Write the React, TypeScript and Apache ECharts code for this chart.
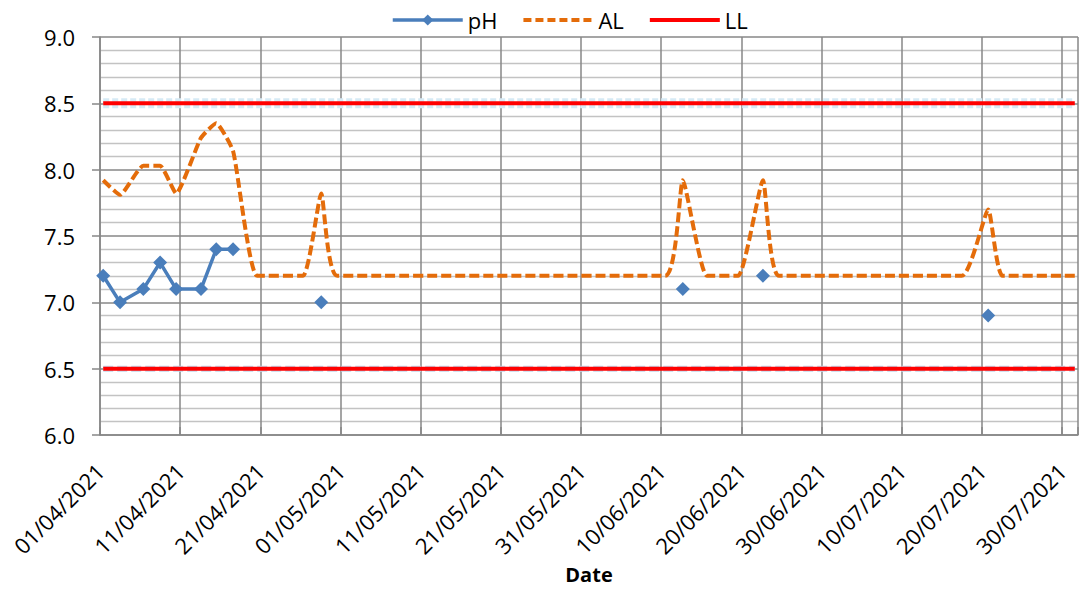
import React, { useEffect, useRef } from "react";
import * as echarts from "echarts";

// Day offsets are counted from 01/04/2021
const BASE_DATE_UTC = Date.UTC(2021, 3, 1);
const X_MIN_DAY = 0;
const X_MAX_DAY = 122;
const X_TICK_DAYS = 10;

const Y_MIN = 6;
const Y_MAX = 9;
const Y_INTERVAL = 0.5;

// pH samples (group id: points of the same group are joined by a line)
const phDays = [0.4, 2.5, 5.4, 7.5, 9.5, 12.6, 14.5, 16.6, 27.6, 72.7, 82.7, 110.8];
const phValues = [7.2, 7.0, 7.1, 7.3, 7.1, 7.1, 7.4, 7.4, 7.0, 7.1, 7.2, 6.9];
const phGroups = [0, 0, 0, 0, 0, 0, 0, 0, 1, 2, 3, 4];

// AL series
const alDays = [0.4, 2.5, 5.4, 7.5, 9.5, 12.6, 14.5, 16.6, 19.6, 25.3, 27.6, 29.6, 70.5, 72.7, 75.7, 79.6, 82.7, 84.7, 107.5, 110.8, 112.6, 121.6];
const alValues = [7.92, 7.81, 8.03, 8.03, 7.82, 8.24, 8.35, 8.14, 7.2, 7.2, 7.82, 7.2, 7.2, 7.92, 7.2, 7.2, 7.92, 7.2, 7.2, 7.7, 7.2, 7.2];

// LL limit lines
const llDays = [0.4, 121.6];
const llUpper = [8.5, 8.5];
const llLower = [6.5, 6.5];

const FONT = "'Open Sans', 'Noto Sans', sans-serif";
const GRID_MAJOR = "#878787";
const GRID_MINOR = "#c3c3c3";
const PH_COLOR = "#4a7ebb";
const AL_COLOR = "#e46c0a";
const LL_COLOR = "#ff0000";

function dayToLabel(day: number): string {
  const d = new Date(BASE_DATE_UTC + day * 86400000);
  const dd = String(d.getUTCDate()).padStart(2, "0");
  const mm = String(d.getUTCMonth() + 1).padStart(2, "0");
  return `${dd}/${mm}/${d.getUTCFullYear()}`;
}

function buildPhData(): (number | null)[][] {
  const out: (number | null)[][] = [];
  for (let i = 0; i < phDays.length; i++) {
    if (i > 0 && phGroups[i] !== phGroups[i - 1]) {
      out.push([phDays[i - 1], null]);
    }
    out.push([phDays[i], phValues[i]]);
  }
  return out;
}

const zip = (xs: number[], ys: number[]) => xs.map((x, i) => [x, ys[i]]);

export default function App() {
  const ref = useRef<HTMLDivElement>(null);

  useEffect(() => {
    if (!ref.current) return;
    const chart = echarts.init(ref.current, undefined, { renderer: "svg" });
    const option: any = {
      animation: false,
      backgroundColor: "#ffffff",
      textStyle: { fontFamily: FONT },
      legend: {
        data: [
          { name: "pH", lineStyle: { width: 3.5, color: PH_COLOR } },
          { name: "AL", itemStyle: { opacity: 0 }, lineStyle: { width: 4, color: AL_COLOR, type: [8, 4] } },
          { name: "LL", itemStyle: { opacity: 0 }, lineStyle: { width: 4, color: LL_COLOR } },
        ],
        lineStyle: { width: "inherit" },
        left: 386,
        top: 4,
        itemWidth: 70,
        itemHeight: 14,
        itemGap: 24,
        textStyle: { fontSize: 22, color: "#000", fontFamily: FONT },
      },
      grid: {
        left: 100,
        right: 2,
        top: 37,
        bottom: 154,
        outerBoundsMode: "none",
        containLabel: false,
      },
      xAxis: {
        type: "value",
        min: X_MIN_DAY,
        max: X_MAX_DAY,
        interval: X_TICK_DAYS,
        name: "Date",
        nameLocation: "middle",
        nameGap: 126,
        nameTextStyle: { fontSize: 20, fontWeight: "bold", color: "#000", fontFamily: FONT },
        axisLine: { show: true, lineStyle: { color: GRID_MAJOR, width: 1.5 } },
        axisTick: { show: true, inside: true, length: 8, lineStyle: { color: GRID_MAJOR, width: 1.5 } },
        splitLine: { show: true, lineStyle: { color: GRID_MAJOR, width: 1.5 } },
        axisLabel: {
          rotate: 45,
          margin: 32,
          fontSize: 22,
          color: "#000",
          fontFamily: FONT,
          formatter: (v: number) => (v % X_TICK_DAYS === 0 ? dayToLabel(v) : ""),
        },
      },
      yAxis: {
        type: "value",
        min: Y_MIN,
        max: Y_MAX,
        interval: Y_INTERVAL,
        axisLine: { show: true, lineStyle: { color: GRID_MAJOR, width: 1.5 } },
        axisTick: { show: true, length: 8, lineStyle: { color: GRID_MAJOR, width: 1.5 } },
        minorTick: { show: false, splitNumber: 5 },
        splitLine: { show: true, lineStyle: { color: GRID_MAJOR, width: 1.5 } },
        minorSplitLine: { show: true, lineStyle: { color: GRID_MINOR, width: 1.3 } },
        axisLabel: {
          margin: 25,
          fontSize: 22,
          color: "#000",
          fontFamily: FONT,
          formatter: (v: number) => v.toFixed(1),
        },
      },
      series: [
        {
          name: "limit-shadow-upper",
          type: "line",
          data: zip(llDays, llUpper),
          symbol: "none",
          silent: true,
          lineStyle: { color: "#d6eaf5", width: 10, type: [6, 3] },
          z: 1,
        },
        {
          name: "limit-shadow-lower",
          type: "line",
          data: zip(llDays, llLower),
          symbol: "none",
          silent: true,
          lineStyle: { color: "#c4d8ea", width: 6, type: [10, 4] },
          z: 1,
        },
        {
          name: "LL",
          type: "line",
          data: zip(llDays, llUpper),
          symbol: "none",
          color: LL_COLOR,
          lineStyle: { color: LL_COLOR, width: 4 },
          z: 2,
        },
        {
          name: "LL",
          type: "line",
          data: zip(llDays, llLower),
          symbol: "none",
          color: LL_COLOR,
          lineStyle: { color: LL_COLOR, width: 4 },
          z: 2,
        },
        {
          name: "AL",
          type: "line",
          data: zip(alDays, alValues),
          symbol: "none",
          smooth: 0.15,
          color: AL_COLOR,
          lineStyle: { color: AL_COLOR, width: 4, type: [10, 4] },
          z: 3,
        },
        {
          name: "pH",
          type: "line",
          data: buildPhData(),
          symbol: "diamond",
          symbolSize: 14,
          showSymbol: true,
          connectNulls: false,
          color: PH_COLOR,
          itemStyle: { color: PH_COLOR },
          lineStyle: { color: PH_COLOR, width: 3.5 },
          z: 4,
        },
      ],
    };
    chart.setOption(option);
    return () => chart.dispose();
  }, []);

  return (
    <div
      ref={ref}
      style={{ position: "fixed", left: 0, top: 0, width: 1080, height: 589 }}
    />
  );
}
